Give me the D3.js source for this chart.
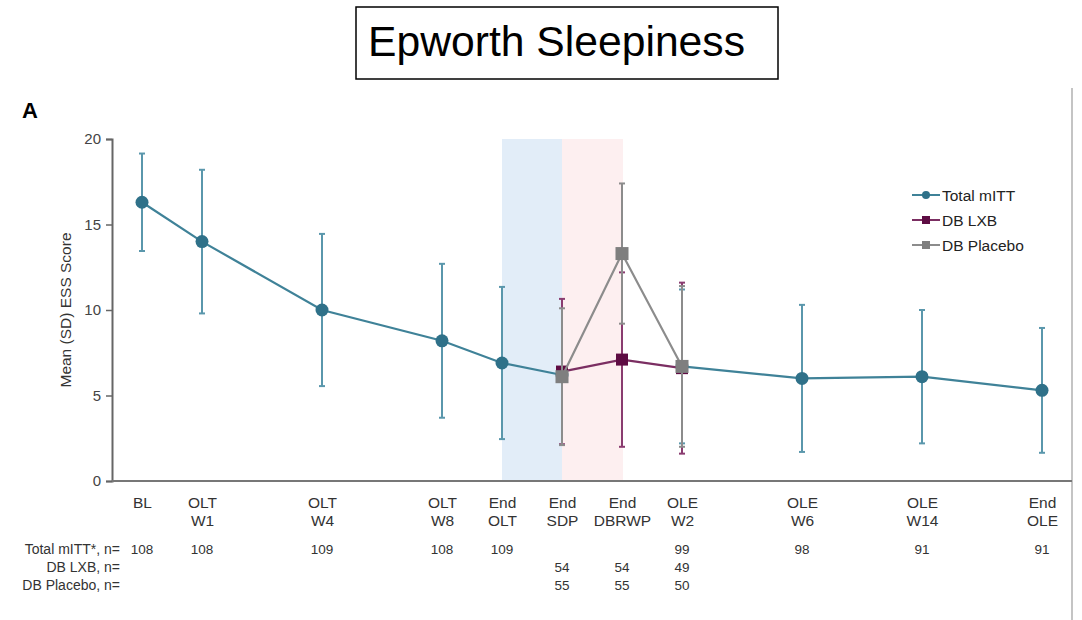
<!DOCTYPE html>
<html>
<head>
<meta charset="utf-8">
<script src="https://cdn.jsdelivr.net/npm/d3@7"></script>
<style>
  body { margin: 0; background: #fff; }
  text { font-family: "Liberation Sans", Arial, sans-serif; }
</style>
</head>
<body>
<div id="chart"></div>
<script>
// visits along the study timeline
var visitSlot = [0, 1, 3, 5, 6, 7, 8, 9, 11, 13, 15]
var labelTop = ["BL", "OLT", "OLT", "OLT", "End", "End", "End", "OLE", "OLE", "OLE", "End"]
var labelBottom = ["", "W1", "W4", "W8", "OLT", "SDP", "DBRWP", "W2", "W6", "W14", "OLE"]

var mittMean = [16.3, 14.0, 10.0, 8.2, 6.9, 6.2, null, 6.7, 6.0, 6.1, 5.3]
var mittSD = [2.85, 4.2, 4.45, 4.5, 4.45, null, null, 4.5, 4.3, 3.9, 3.65]
var lxbMean = [null, null, null, null, null, 6.4, 7.1, 6.6, null, null, null]
var lxbSD = [null, null, null, null, null, 4.25, 5.1, 5.0, null, null, null]
var placeboMean = [null, null, null, null, null, 6.1, 13.3, 6.7, null, null, null]
var placeboSD = [null, null, null, null, null, 4.0, 4.1, 4.7, null, null, null]

var mittN = [108, 108, 109, 108, 109, null, null, 99, 98, 91, 91]
var lxbN = [null, null, null, null, null, 54, 54, 49, null, null, null]
var placeboN = [null, null, null, null, null, 55, 55, 50, null, null, null]

var yTicks = [0, 5, 10, 15, 20]
var bandFrom = [6, 7]
var bandTo = [7, 8]
var bandColor = ["#e2edf8", "#fdeff0"]

var svgSize = { width: 1082, height: 620 }
var margin = { top: 139, left: 112 }
var chartSize = { width: 960, height: 342 }

var svg = d3.select("#chart").append("svg")
    .attr("width", svgSize.width)
    .attr("height", svgSize.height)

// title box
svg.append("rect")
    .attr("x", 356).attr("y", 7).attr("width", 422).attr("height", 72)
    .attr("fill", "none").attr("stroke", "#000").attr("stroke-width", 1.5)
svg.append("text")
    .attr("x", 368).attr("y", 56)
    .attr("textLength", 377)
    .attr("lengthAdjust", "spacingAndGlyphs")
    .style("font-size", "42px")
    .text("Epworth Sleepiness")

svg.append("text")
    .attr("x", 22).attr("y", 118)
    .style("font-size", "22px").style("font-weight", "bold")
    .text("A")

// right frame edge
svg.append("line")
    .attr("x1", 1072).attr("x2", 1072).attr("y1", 88).attr("y2", 620)
    .attr("stroke", "#b0b0b0").attr("stroke-width", 1.5)

var frame = svg.append("g")
    .attr("transform", `translate(${margin.left}, ${margin.top})`)

var x = d3.scaleLinear().domain([0, 15]).range([30, 930])
var y = d3.scaleLinear().domain([0, 20]).range([chartSize.height, 0])

// shaded periods
frame.selectAll("rect.band")
    .data(bandFrom)
    .enter()
    .append("rect")
    .attr("class", "band")
    .attr("x", d => x(d))
    .attr("width", (d, i) => x(bandTo[i]) - x(d) + 1)
    .attr("y", y(20))
    .attr("height", y(0) - y(20))
    .attr("fill", (d, i) => bandColor[i])

// axes
var leftAxis = d3.axisLeft(y).tickValues(yTicks).tickSize(6).tickPadding(5)
var yAxis = frame.append("g").call(leftAxis)
yAxis.select(".domain").attr("stroke", "#666").attr("stroke-width", 2)
yAxis.selectAll(".tick line").attr("stroke", "#666").attr("stroke-width", 1.5)
yAxis.selectAll(".tick text")
    .style("font-size", "15px").attr("fill", "#444")
    .style("font-family", "Liberation Sans, Arial, sans-serif")

frame.append("line")
    .attr("x1", 0).attr("x2", chartSize.width)
    .attr("y1", y(0)).attr("y2", y(0))
    .attr("stroke", "#777").attr("stroke-width", 2)

var bottomAxis = d3.axisBottom(x).tickValues(visitSlot).tickSize(0).tickFormat("")
var xAxis = frame.append("g")
    .attr("transform", `translate(0, ${chartSize.height})`)
    .call(bottomAxis)
xAxis.select(".domain").remove()
xAxis.selectAll(".tick").each(function(d, i) {
    var t = d3.select(this).append("text")
        .attr("fill", "#333")
        .attr("text-anchor", "middle")
        .style("font-size", "15.5px")
        .style("font-family", "Liberation Sans, Arial, sans-serif")
    t.append("tspan").attr("x", 0).attr("y", 27).text(labelTop[i])
    t.append("tspan").attr("x", 0).attr("y", 45).text(labelBottom[i])
})

frame.append("text")
    .attr("transform", "rotate(-90)")
    .attr("x", -(y(10)))
    .attr("y", -41)
    .attr("text-anchor", "middle")
    .attr("fill", "#333")
    .style("font-size", "15.5px")
    .text("Mean (SD) ESS Score")

// series
var series = [
    { name: "Total mITT", mean: mittMean, sd: mittSD, line: "#3f8298", bar: "#5a97ac", fill: "#2f7189", shape: "circle", size: 6.5 },
    { name: "DB LXB", mean: lxbMean, sd: lxbSD, line: "#7b2e62", bar: "#8a3c70", fill: "#5e0c43", shape: "square", size: 12 },
    { name: "DB Placebo", mean: placeboMean, sd: placeboSD, line: "#8c8c8c", bar: "#8c8c8c", fill: "#7f7f7f", shape: "square", size: 13 }
]

var lineGen = d3.line()
    .defined(d => d.v != null)
    .x(d => x(d.slot))
    .y(d => y(d.v))

series.forEach(s => {
    var pts = visitSlot.map((slot, i) => ({ slot: slot, v: s.mean[i], sd: s.sd[i] }))
    var g = frame.append("g")

    var bars = pts.filter(d => d.v != null && d.sd != null)
    g.selectAll("line.err")
        .data(bars).enter().append("line")
        .attr("x1", d => x(d.slot)).attr("x2", d => x(d.slot))
        .attr("y1", d => y(d.v + d.sd)).attr("y2", d => y(d.v - d.sd))
        .attr("stroke", s.bar).attr("stroke-width", 2)
    ;[1, -1].forEach(sign => {
        g.selectAll("line.cap" + sign)
            .data(bars).enter().append("line")
            .attr("x1", d => x(d.slot) - 3).attr("x2", d => x(d.slot) + 3)
            .attr("y1", d => y(d.v + sign * d.sd)).attr("y2", d => y(d.v + sign * d.sd))
            .attr("stroke", s.bar).attr("stroke-width", 2)
    })

    g.append("path")
        .datum(pts)
        .attr("d", lineGen)
        .attr("fill", "none")
        .attr("stroke", s.line)
        .attr("stroke-width", 2.2)

    var pd = pts.filter(d => d.v != null)
    if (s.shape == "circle") {
        g.selectAll("circle")
            .data(pd).enter().append("circle")
            .attr("cx", d => x(d.slot)).attr("cy", d => y(d.v))
            .attr("r", s.size).attr("fill", s.fill)
    } else {
        g.selectAll("rect")
            .data(pd).enter().append("rect")
            .attr("x", d => x(d.slot) - s.size / 2).attr("y", d => y(d.v) - s.size / 2)
            .attr("width", s.size).attr("height", s.size)
            .attr("fill", s.fill)
    }
})

// legend
var legend = svg.append("g").attr("transform", "translate(912, 195)")
series.forEach((s, i) => {
    var row = legend.append("g").attr("transform", `translate(0, ${i * 25})`)
    row.append("line").attr("x1", 0).attr("x2", 28).attr("stroke", s.line).attr("stroke-width", 2)
    if (s.shape == "circle") {
        row.append("circle").attr("cx", 14).attr("r", 4).attr("fill", s.fill)
    } else {
        row.append("rect").attr("x", 10).attr("y", -4).attr("width", 8).attr("height", 8).attr("fill", s.fill)
    }
    row.append("text").attr("x", 30).attr("y", 5.5)
        .attr("fill", "#222")
        .style("font-size", "15.5px")
        .text(s.name)
})

// n table
var rowNames = ["Total mITT*, n=", "DB LXB, n=", "DB Placebo, n="]
var rowCounts = [mittN, lxbN, placeboN]
rowNames.forEach((name, r) => {
    var ry = 554 + r * 18
    svg.append("text")
        .attr("x", 120).attr("y", ry)
        .attr("text-anchor", "end")
        .attr("fill", "#333")
        .style("font-size", "14px")
        .text(name)
    svg.selectAll("text.n" + r)
        .data(rowCounts[r].map((n, i) => ({ n: n, slot: visitSlot[i] })).filter(d => d.n != null))
        .enter().append("text")
        .attr("x", d => margin.left + x(d.slot))
        .attr("y", ry)
        .attr("text-anchor", "middle")
        .attr("fill", "#333")
        .style("font-size", "13.5px")
        .text(d => d.n)
})
</script>
</body>
</html>
